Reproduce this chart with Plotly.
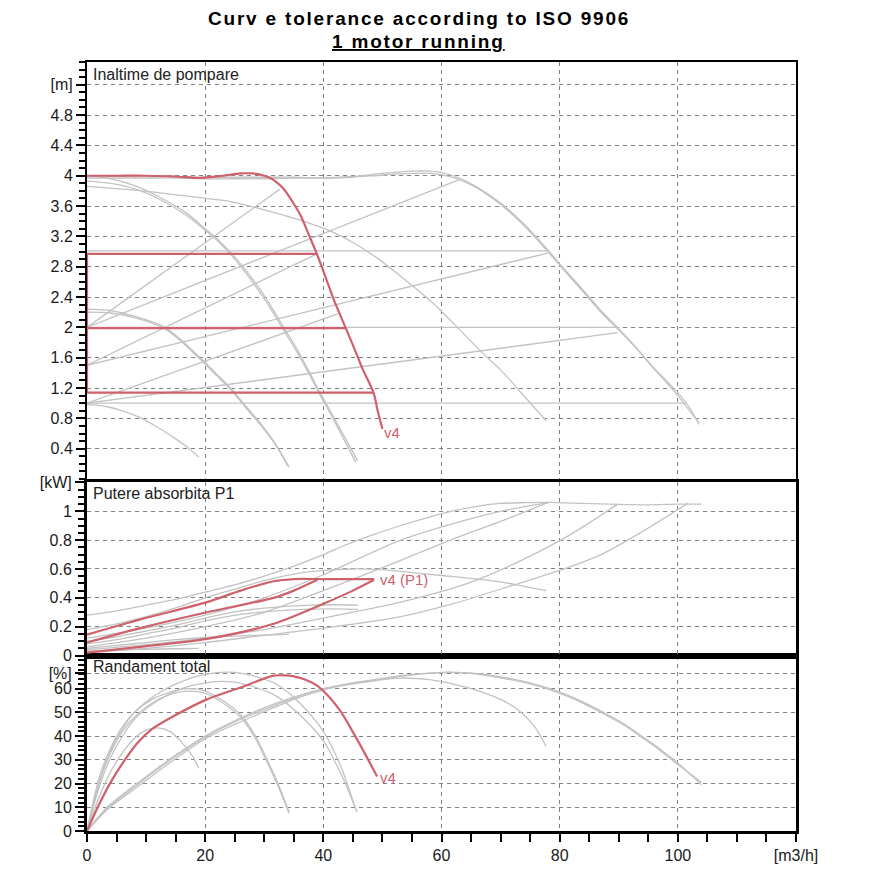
"""Curve tolerance chart (ISO 9906) - head, power and efficiency vs flow."""

import numpy as np
import plotly.graph_objects as go

GRAY = '#c2c2c2'
RED = '#cf616c'
GRID = '#808080'
FONT = 'Liberation Sans, Arial, sans-serif'

# ---- head panel [m] ----
Q_G1 = [0, 5, 10, 15, 20, 25, 30, 35, 40, 45, 50, 55, 58, 60, 63, 66, 70, 74, 78, 81, 84.2, 87, 89.8, 93, 96, 98, 100, 102, 103.6]
H_G1A = [4.0, 3.99, 4.0, 3.99, 3.98, 3.98, 3.98, 3.98, 3.97, 3.99, 4.03, 4.06, 4.06, 4.04, 3.97, 3.85, 3.64, 3.36, 3.02, 2.75, 2.47, 2.22, 2.0, 1.73, 1.46, 1.3, 1.14, 0.94, 0.72]
H_G1B = [3.97, 3.97, 3.97, 3.97, 3.96, 3.96, 3.96, 3.97, 3.97, 3.98, 4.01, 4.03, 4.03, 4.01, 3.95, 3.84, 3.62, 3.34, 3.0, 2.73, 2.45, 2.2, 1.98, 1.72, 1.45, 1.28, 1.1, 0.9, 0.74]

Q_G2 = [0, 8, 16, 24.3, 30, 35, 41.2, 45, 49, 53, 58, 62.7, 66.7, 70, 73, 75.5, 77.7]
H_G2 = [3.86, 3.81, 3.74, 3.66, 3.55, 3.44, 3.27, 3.12, 2.92, 2.68, 2.36, 2.0, 1.68, 1.44, 1.18, 0.96, 0.77]

Q_G3A = [0, 4, 8.4, 12.5, 16.8, 20, 22.4, 25, 28, 30.5, 33.3, 35.5, 37.5, 39.5, 41.5, 43.7, 45.8]
H_G3A = [4.0, 3.96, 3.86, 3.71, 3.51, 3.3, 3.14, 2.93, 2.64, 2.36, 2.0, 1.72, 1.43, 1.13, 0.85, 0.54, 0.24]
Q_G3B = [0, 4, 8.4, 12.5, 16.8, 20, 22.4, 25, 28, 30.5, 33.3, 35.5, 37.5, 39.5, 41.5, 43.5, 45.5]
H_G3B = [3.93, 3.9, 3.82, 3.68, 3.48, 3.28, 3.12, 2.9, 2.6, 2.32, 1.96, 1.68, 1.4, 1.1, 0.82, 0.52, 0.22]

Q_G4A = [0, 4, 8, 13, 16, 19.8, 22, 24.3, 27, 29.5, 32, 34.2]
H_G4A = [2.24, 2.22, 2.15, 2.01, 1.83, 1.55, 1.38, 1.2, 0.95, 0.72, 0.45, 0.16]
Q_G4B = [0, 4, 8, 13, 16, 19.8, 22, 24.3, 27, 29.5, 32, 34.0]
H_G4B = [2.2, 2.19, 2.13, 1.99, 1.81, 1.53, 1.36, 1.18, 0.93, 0.7, 0.44, 0.17]

Q_G5 = [0, 3, 6, 9, 12, 15, 17, 18.9]
H_G5 = [0.98, 0.96, 0.9, 0.81, 0.68, 0.53, 0.42, 0.29]

# straight system lines: start head at Q=0, end point
SYS_H0 = [2.0, 2.0, 1.5, 1.5, 1.0, 1.0]
SYS_Q1 = [32.6, 63.0, 38.9, 78.0, 42.5, 89.8]
SYS_H1 = [3.82, 3.95, 2.97, 2.98, 2.18, 1.93]

# horizontal tolerance levels
LEVEL_H = [3.01, 2.0, 1.0]
LEVEL_Q1 = [78.0, 89.8, 101.4]
RED_LEVEL_H = [2.97, 1.99, 1.14]
RED_LEVEL_Q1 = [38.9, 43.8, 48.5]

Q_V4 = [0, 5, 10, 15, 19, 23, 26, 28, 30, 31, 32, 33, 34, 35, 36.2, 37.5, 38.9, 40.3, 41.7, 43.8, 45.2, 46.6, 48.5, 49.2, 50]
H_V4 = [4.0, 4.0, 4.0, 3.99, 3.97, 4.0, 4.03, 4.03, 4.0, 3.97, 3.92, 3.85, 3.75, 3.63, 3.47, 3.23, 2.97, 2.68, 2.38, 1.99, 1.73, 1.46, 1.14, 0.9, 0.66]

# ---- power panel [kW] ----
Q_P_TOP = [0, 5, 10, 15, 20, 25, 30, 35, 40, 44, 48.6, 53, 57, 61.6, 66, 70, 74, 78, 84, 90, 95, 100, 104]
P_TOP = [0.28, 0.31, 0.35, 0.39, 0.44, 0.49, 0.55, 0.62, 0.70, 0.77, 0.84, 0.90, 0.95, 1.0, 1.035, 1.055, 1.06, 1.062, 1.055, 1.048, 1.045, 1.05, 1.05]

Q_P_G2 = [0, 5, 10, 15, 20, 25, 30, 35, 40, 45, 50, 55, 60, 65, 70, 74, 77.7]
P_G2 = [0.18, 0.22, 0.27, 0.33, 0.40, 0.46, 0.52, 0.565, 0.59, 0.60, 0.595, 0.575, 0.555, 0.535, 0.51, 0.48, 0.45]

Q_P_G3 = [0, 5, 10, 15, 20, 26, 32, 38, 42, 45.9]
P_G3A = [0.10, 0.13, 0.17, 0.21, 0.26, 0.31, 0.335, 0.35, 0.352, 0.35]
P_G3B = [0.08, 0.11, 0.15, 0.19, 0.24, 0.285, 0.31, 0.322, 0.323, 0.32]

Q_P_G4 = [0, 5, 10, 15, 20, 25, 30, 34.2]
P_G4 = [0.05, 0.07, 0.09, 0.11, 0.125, 0.135, 0.142, 0.146]

Q_P_G5 = [0, 5, 10, 15, 18.9]
P_G5 = [0.03, 0.037, 0.043, 0.047, 0.05]

Q_P_B = [0, 10, 20, 30, 40, 53.1, 63.3, 70, 78]
P_B = [0.12, 0.19, 0.28, 0.40, 0.56, 0.80, 0.93, 1.0, 1.06]
P_C = [0.06, 0.12, 0.2, 0.3, 0.45, 0.66, 0.83, 0.93, 1.06]
Q_P_D = [0, 10, 20, 30, 40, 53.1, 64.4, 72, 80.2, 85, 89.8]
P_D = [0.04, 0.075, 0.12, 0.18, 0.26, 0.37, 0.50, 0.63, 0.80, 0.92, 1.05]
Q_P_E = [0, 10, 20, 30, 40, 53.1, 62, 72.3, 80, 87, 94, 101.7]
P_E = [0.02, 0.05, 0.09, 0.14, 0.19, 0.27, 0.36, 0.49, 0.59, 0.70, 0.86, 1.056]

Q_P_V4A = [0, 9, 20.3, 26, 31.6, 35, 40, 45, 48.6]
P_V4A = [0.145, 0.25, 0.37, 0.45, 0.515, 0.53, 0.53, 0.53, 0.53]
Q_P_V4B = [0, 9, 20.3, 31.6, 35, 39]
P_V4B = [0.09, 0.19, 0.30, 0.40, 0.45, 0.525]
Q_P_V4C = [0, 9, 20.3, 31.6, 40.1, 45, 48.6]
P_V4C = [0.02, 0.06, 0.115, 0.22, 0.36, 0.45, 0.525]

# ---- efficiency panel [%] ----
Q_E1 = [0, 3.4, 9, 14.7, 20.3, 25, 31.6, 35, 40.1, 45, 48.6, 53.1, 60, 63.3, 66, 70, 75, 79.6, 83, 87, 91, 94.3, 97, 100, 104]
E1A = [0, 9, 19.5, 30, 39.3, 45, 52, 55.5, 59.5, 62, 63.3, 65.2, 66.8, 66.8, 66.4, 65, 62.5, 59, 55.5, 50.6, 45, 39.3, 34.5, 28.7, 19.5]
E1B = [0, 9.5, 20.5, 31, 40, 46, 52.8, 56, 60, 62.5, 63.8, 65.5, 66.9, 66.8, 66.2, 64.6, 62, 58.5, 55, 50, 44.5, 38.8, 34, 28, 20.5]
Q_E2 = [0, 3.4, 9, 14.7, 20.3, 25, 31.6, 40.1, 48.6, 53.1, 58, 64.4, 70, 73, 75.7, 77.7]
E2 = [0, 10, 21, 31.5, 40.5, 46.5, 53.5, 60, 63.5, 64.5, 63.8, 60.5, 55.5, 51, 44.2, 35.7]

Q_E3A = [0, 2, 4, 6, 8, 12, 16, 20, 24, 28, 32, 36, 40, 43, 45.5]
E3A = [0, 20, 34, 43, 50, 58, 63, 66, 67, 65.5, 62, 54, 42, 27, 9]
Q_E3B = [0, 2, 4, 6, 8, 12, 16, 20, 24, 28, 32, 36, 40, 43, 45.7]
E3B = [0, 18, 31, 40, 47, 55, 60, 62.5, 63, 61, 57, 49, 38, 24, 8]

Q_E4 = [0, 2, 4, 6, 8, 11, 14, 17, 20, 23, 26, 28.5, 30.5, 32.5, 34.2]
E4A = [0, 22, 35, 44, 50, 55.5, 58.5, 60, 59, 55, 49, 40, 30, 19, 8]
E4B = [0, 20, 33, 42, 48, 54, 57.5, 59, 58, 54, 48, 39, 29, 18, 7.5]

Q_E5 = [0, 2, 4, 6, 8, 10, 12, 14, 16, 18, 18.9]
E5 = [0, 14, 25, 33, 39, 42.5, 43.5, 42, 37.5, 31, 26.5]

Q_E_V4 = [0, 2, 4, 6, 8.5, 11, 14.7, 20.3, 26, 31.6, 33.5, 35, 37, 39, 41, 42.9, 44.6, 46.3, 49.1]
E_V4 = [0, 11, 20.5, 28.5, 37, 43, 48.5, 55.5, 60.5, 65.5, 65.6, 65.2, 63.8, 61.2, 56.5, 50.5, 43.5, 36, 23]

# ---- axes / labels ----
Q_TICKS = [0, 20, 40, 60, 80, 100, 120]
Q_TEXT = ['0', '20', '40', '60', '80', '100', '[m3/h]']
H_TICKS = [0.4, 0.8, 1.2, 1.6, 2.0, 2.4, 2.8, 3.2, 3.6, 4.0, 4.4, 4.8, 5.2]
H_TEXT = ['0.4', '0.8', '1.2', '1.6', '2', '2.4', '2.8', '3.2', '3.6', '4', '4.4', '4.8', '[m]']
P_TICKS = [0, 0.2, 0.4, 0.6, 0.8, 1.0, 1.2]
P_TEXT = ['0', '0.2', '0.4', '0.6', '0.8', '1', '[kW]']
E_TICKS = [0, 10, 20, 30, 40, 50, 60, 66.5]
E_TEXT = ['0', '10', '20', '30', '40', '50', '60', '[%]']

fig = go.Figure()


def curve(q, v, axes, color=GRAY, width=1.3, shape='spline'):
    fig.add_trace(go.Scatter(
        x=q, y=v, xaxis=axes[0], yaxis=axes[1], mode='lines',
        line=dict(color=color, width=width, shape=shape, smoothing=0.8),
        hoverinfo='skip', showlegend=False,
    ))


TOP = ('x3', 'y3')
MID = ('x2', 'y2')
BOT = ('x', 'y')

# head: gray curves and lines
for h in (H_G1A, H_G1B):
    curve(Q_G1, h, TOP)
curve(Q_G2, H_G2, TOP)
curve(Q_G3A, H_G3A, TOP)
curve(Q_G3B, H_G3B, TOP)
curve(Q_G4A, H_G4A, TOP)
curve(Q_G4B, H_G4B, TOP)
curve(Q_G5, H_G5, TOP)
for h0, q1, h1 in zip(SYS_H0, SYS_Q1, SYS_H1):
    curve([0, q1], [h0, h1], TOP, shape='linear')
for h, q1 in zip(LEVEL_H, LEVEL_Q1):
    curve([0, q1], [h, h], TOP, shape='linear')

# head: red v4
for h, q1 in zip(RED_LEVEL_H, RED_LEVEL_Q1):
    curve([0, q1], [h, h], TOP, color=RED, width=2.2, shape='linear')
curve([0, 0], [min(RED_LEVEL_H), max(RED_LEVEL_H)], TOP, color=RED, width=2.2, shape='linear')
curve(Q_V4, H_V4, TOP, color=RED, width=2.2)

# power
curve(Q_P_TOP, P_TOP, MID)
curve(Q_P_G2, P_G2, MID)
curve(Q_P_G3, P_G3A, MID)
curve(Q_P_G3, P_G3B, MID)
curve(Q_P_G4, P_G4, MID)
curve(Q_P_G5, P_G5, MID)
curve(Q_P_B, P_B, MID)
curve(Q_P_B, P_C, MID)
curve(Q_P_D, P_D, MID)
curve(Q_P_E, P_E, MID)
curve(Q_P_V4A, P_V4A, MID, color=RED, width=2.2)
curve(Q_P_V4B, P_V4B, MID, color=RED, width=2.2)
curve(Q_P_V4C, P_V4C, MID, color=RED, width=2.2)

# efficiency
curve(Q_E1, E1A, BOT)
curve(Q_E1, E1B, BOT)
curve(Q_E2, E2, BOT)
curve(Q_E3A, E3A, BOT)
curve(Q_E3B, E3B, BOT)
curve(Q_E4, E4A, BOT)
curve(Q_E4, E4B, BOT)
curve(Q_E5, E5, BOT)
curve(Q_E_V4, E_V4, BOT, color=RED, width=2.2)

tickfont = dict(family=FONT, size=16, color='#1a1a1a')


def x_axis(anchor, labels):
    ax = dict(
        anchor=anchor, domain=[0, 1], range=[0, 120], zeroline=False,
        showgrid=True, gridcolor=GRID, gridwidth=1, griddash='4px,4px',
        tickvals=Q_TICKS, ticktext=Q_TEXT, showticklabels=labels,
        showline=True, linecolor='black', linewidth=3, mirror=True,
        tickfont=tickfont,
    )
    if labels:
        ax.update(ticks='outside', ticklen=8, tickwidth=2, tickcolor='black',
                  minor=dict(tickvals=list(np.arange(0, 121, 5)), ticks='outside',
                             ticklen=8, tickwidth=2, tickcolor='black', showgrid=False))
    else:
        ax.update(ticks='')
    return ax


def y_axis(domain, rng, vals, text, minor_step, lw=3):
    return dict(
        domain=domain, range=rng, zeroline=False,
        tickvals=vals, ticktext=text, tickfont=tickfont,
        showgrid=True, gridcolor=GRID, gridwidth=1, griddash='4px,4px',
        ticks='outside', ticklen=9, tickwidth=2, tickcolor='black',
        minor=dict(tickvals=list(np.arange(0, rng[1] + 1e-9, minor_step)), ticks='outside',
                   ticklen=6, tickwidth=2, tickcolor='black', showgrid=False),
        showline=True, linecolor='black', linewidth=lw, mirror=True,
    )


# the page body adds an 8 px offset, so margins are trimmed to keep the plot in place
fig.update_layout(
    width=880, height=880,
    margin=dict(l=79, r=92, t=54, b=57),
    paper_bgcolor='white', plot_bgcolor='white',
    font=dict(family=FONT, color='#1a1a1a'),
    showlegend=False,
    xaxis=x_axis('y', True),
    xaxis2=x_axis('y2', False),
    xaxis3=dict(x_axis('y3', False), linewidth=2),
    yaxis=y_axis([0, 0.2282], [0, 74], E_TICKS, E_TEXT, 2),
    yaxis2=y_axis([0.2282, 0.4532], [0, 1.2], P_TICKS, P_TEXT, 0.05),
    yaxis3=y_axis([0.4577, 1.0], [0, 5.5], H_TICKS, H_TEXT, 0.1, lw=2),
)

SPACED = '<span style="letter-spacing:1.8px">{}</span>'
annotations = [
    dict(text='<b>' + SPACED.format('Curv e tolerance according to ISO 9906') + '</b>',
         x=0.468, y=1.057, font=dict(size=19, color='black')),
    dict(text='<b><u>' + SPACED.format('1 motor running') + '</u></b>',
         x=0.468, y=1.027, font=dict(size=19, color='black')),
]
for ann in annotations:
    ann.update(xref='paper', yref='paper', showarrow=False, xanchor='center', yanchor='middle')

panel_titles = [('Inaltime de pompare', 'y3 domain'), ('Putere absorbita P1', 'y2 domain'),
                ('Randament total', 'y domain')]
for text, yref in panel_titles:
    annotations.append(dict(text=text, xref='paper', yref=yref, x=0.006, y=0.995,
                            xanchor='left', yanchor='top', showarrow=False,
                            font=dict(size=16, color='#222222')))

curve_labels = [('v4', 'x3', 'y3', 50.0, 0.62), ('v4 (P1)', 'x2', 'y2', 49.2, 0.525),
                ('v4', 'x', 'y', 49.2, 22.5)]
for text, xr, yr, xv, yv in curve_labels:
    annotations.append(dict(text=text, xref=xr, yref=yr, x=xv, y=yv, xanchor='left',
                            yanchor='middle', showarrow=False,
                            font=dict(size=15, color=RED)))

fig.update_layout(annotations=annotations)

fig.write_html("out.html")
